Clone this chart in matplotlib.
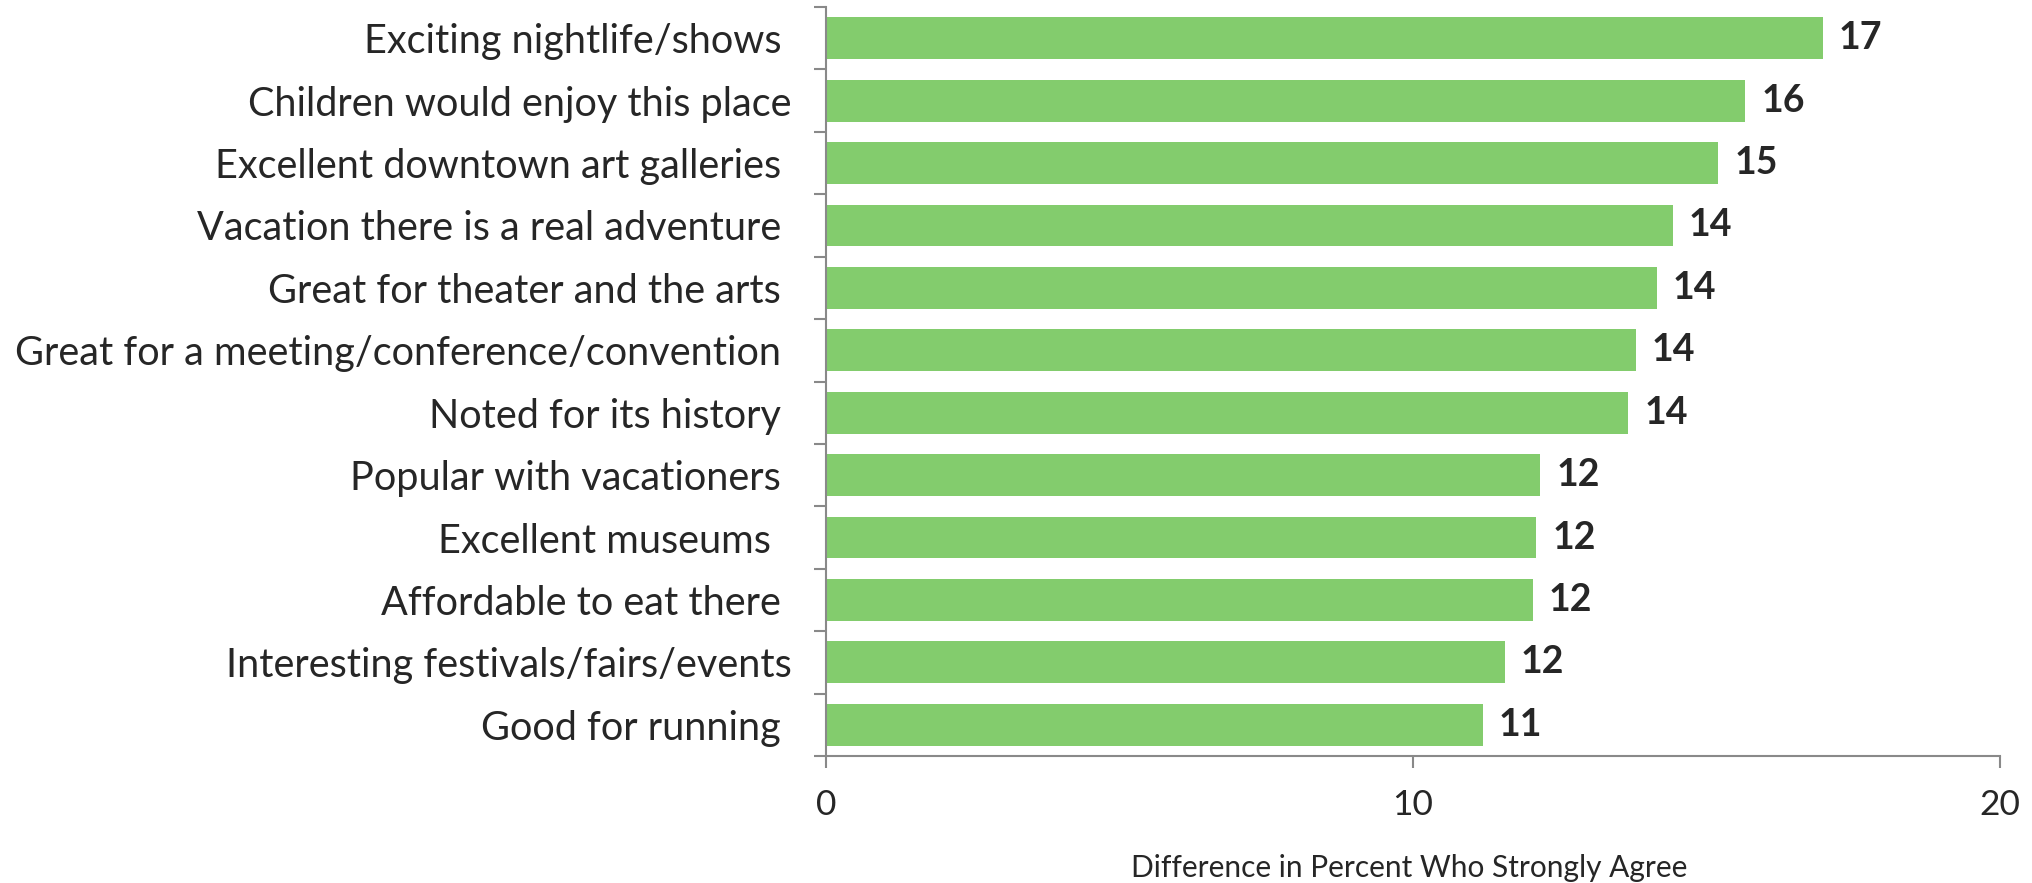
import matplotlib
matplotlib.use("Agg")
import matplotlib.pyplot as plt
import numpy as np

categories = [
    "Exciting nightlife/shows ",
    "Children would enjoy this place",
    "Excellent downtown art galleries ",
    "Vacation there is a real adventure ",
    "Great for theater and the arts ",
    "Great for a meeting/conference/convention ",
    "Noted for its history ",
    "Popular with vacationers ",
    "Excellent museums  ",
    "Affordable to eat there ",
    "Interesting festivals/fairs/events",
    "Good for running ",
]
values = [16.98, 15.66, 15.20, 14.43, 14.15, 13.80, 13.67, 12.17, 12.10, 12.04, 11.56, 11.19]
value_labels = ["17", "16", "15", "14", "14", "14", "14", "12", "12", "12", "12", "11"]
x_ticks = [0, 10, 20]

plt.rcParams["font.family"] = ["Lato", "DejaVu Sans"]
text_color = "#262626"
axis_color = "#898989"

fig = plt.figure(figsize=(20.33, 8.83), dpi=100)
ax = fig.add_axes([826 / 2033, 1 - 756 / 883, (2000 - 826) / 2033, (756 - 7) / 883])

y = np.arange(len(categories))
ax.barh(y, values, height=0.67, color="#83CC6D", edgecolor="none")
for yi, v, lab in zip(y, values, value_labels):
    ax.text(v + 0.27, yi, lab, va="center", ha="left", fontsize=27,
            fontweight="bold", color=text_color)

ax.set_ylim(len(categories) - 0.5, -0.5)
ax.set_xlim(0, 20)

ax.set_yticks(y)
ax.set_yticklabels(categories, fontsize=28.5, color=text_color)
ax.set_yticks(np.arange(-0.5, len(categories)), minor=True)
ax.tick_params(axis="y", which="major", length=0, pad=25)
ax.tick_params(axis="y", which="minor", length=8.6, width=1.5, color=axis_color)

ax.set_xticks(x_ticks)
ax.set_xticklabels([str(t) for t in x_ticks], fontsize=25.5, color=text_color)
ax.tick_params(axis="x", length=8.6, width=1.5, color=axis_color, pad=15)

for s in ["top", "right"]:
    ax.spines[s].set_visible(False)
for s in ["left", "bottom"]:
    ax.spines[s].set_color(axis_color)
    ax.spines[s].set_linewidth(1.5)

fig.text(1409 / 2033, 1 - 868 / 883, "Difference in Percent Who Strongly Agree",
         ha="center", va="center", fontsize=21.5, color=text_color)

fig.savefig("out.png", dpi=100)
